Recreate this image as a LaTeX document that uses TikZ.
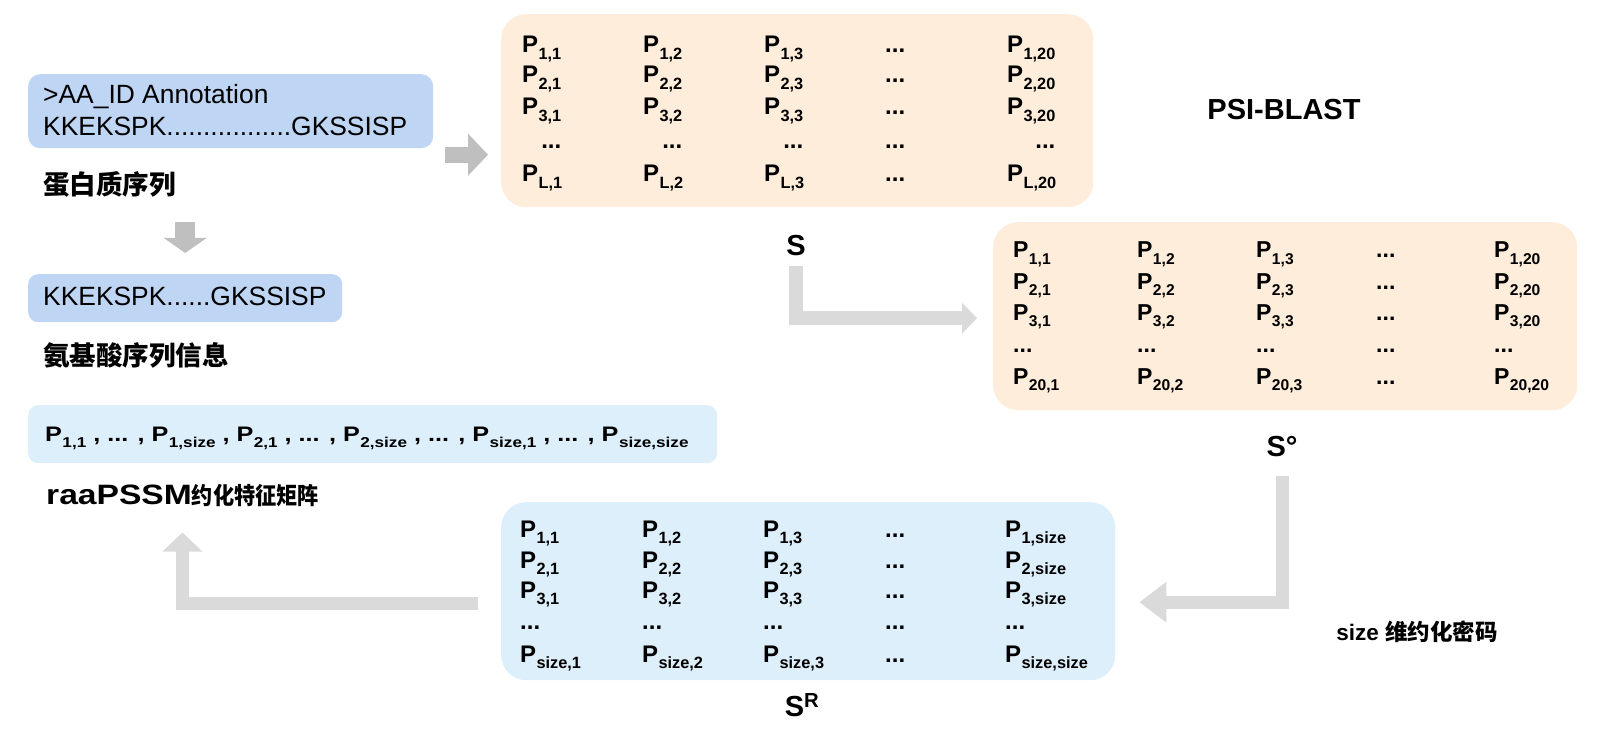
\documentclass[tikz,border=0pt]{standalone}
\usepackage{fontspec}
\setmainfont{Liberation Sans}
\newfontfamily\cjk{Noto Sans CJK SC}
\usepackage{tikz}
\usetikzlibrary{arrows.meta,positioning,calc}

\definecolor{seqblue}{RGB}{190,213,244}
\definecolor{matorange}{RGB}{253,237,218}
\definecolor{matblue}{RGB}{221,239,250}
\definecolor{arrgray}{RGB}{191,191,191}
\definecolor{arrlight}{RGB}{218,218,218}

% one matrix entry P with a subscript
\newcommand\pe[1]{P\kern0.4pt\raisebox{-0.29em}{\scalebox{0.68}{#1}}}
\newcommand\fsz[1]{\fontsize{#1}{#1}\selectfont}

\begin{document}
\begin{tikzpicture}[
  x=1pt, y=-1pt,
  panel/.style={rounded corners=#1, inner sep=0, anchor=north west},
  ent/.style={font=\bfseries\fsz{#1}, anchor=base west, inner sep=0},
  seqtxt/.style={font=\fsz{26.4}, anchor=base west, inner sep=0},
  zhlbl/.style={font=\cjk\bfseries\fsz{26.5}, anchor=west, inner sep=0},
  mlbl/.style={font=\bfseries\fsz{29}, inner sep=0},
  garr/.style={draw=arrgray, line width=#1},
  larr/.style={draw=arrlight, line width=#1, line join=miter},
]
\useasboundingbox (0,0) rectangle (1597,743);

% left column: sequences
\node[panel=12pt, fill=seqblue, minimum width=405pt, minimum height=74pt] (prot) at (28,74) {};
\node[seqtxt] (protl1) at (43,104) {>AA\_ID Annotation};
\node[seqtxt] (protl2) at (43,136) {KKEKSPK.................GKSSISP};
\node[zhlbl] (protlbl) at (43,184) {蛋白质序列};

\node[panel=10pt, fill=seqblue, minimum width=314pt, minimum height=48pt] (aaseq) at (28,274) {};
\node[seqtxt] (aal) at (43,305) {KKEKSPK......GKSSISP};
\node[zhlbl] (aalbl) at (43,355) {氨基酸序列信息};

\node[panel=10pt, fill=matblue, minimum width=689pt, minimum height=58pt] (vec) at (28,405) {};
\node[ent=21] (vecl) at (45,441) {\scalebox{1.2}[1]{\pe{1,1} , ... , \pe{1,size} , \pe{2,1} , ... , \pe{2,size} , ... , \pe{size,1} , ... , \pe{size,size}}};
\node[anchor=west, inner sep=0] (veclbl) at (46,496) {\scalebox{1.2}[1]{\bfseries\fsz{28}raaPSSM}\scalebox{0.9}[1]{\cjk\bfseries\fsz{23.5}约化特征矩阵}};

% matrix S
\node[panel=25pt, fill=matorange, minimum width=592pt, minimum height=193pt] (smat) at (501,14) {};
\foreach \r/\y in {1/53,2/83,3/115,L/182} {
  \foreach \c/\x in {1/522,2/643,3/764}
    \node[ent=24] (s-\r-\c) at (\x,\y) {\pe{\r,\c}};
  \node[ent=24] (s-\r-4) at (885,\y) {...};
  \node[ent=24] (s-\r-5) at (1007,\y) {\pe{\r,20}};
}
\foreach \c in {1,...,5}
  \node[ent=24, anchor=base east] (s-d-\c) at (s-1-\c.base east |- 0,149) {...};
\node[mlbl] (slbl) at (796,246) {S};
\node[mlbl] (psi) at (1284,110) {PSI-BLAST};

% matrix S°
\node[panel=25pt, fill=matorange, minimum width=584pt, minimum height=188pt] (somat) at (993,222) {};
\foreach \r/\y in {1/258,2/289,3/320,20/384} {
  \foreach \c/\x in {1/1013,2/1137,3/1256}
    \node[ent=23] (o-\r-\c) at (\x,\y) {\pe{\r,\c}};
  \node[ent=23] (o-\r-4) at (1376,\y) {...};
  \node[ent=23] (o-\r-5) at (1494,\y) {\pe{\r,20}};
}
\foreach \x in {1013,1137,1256,1376,1494}
  \node[ent=23] at (\x,352) {...};
\node[mlbl] (solbl) at (1282,447) {S°};

% matrix S^R
\node[panel=25pt, fill=matblue, minimum width=614pt, minimum height=178pt] (srmat) at (501,502) {};
\foreach \r/\y in {1/537,2/568,3/598,size/662} {
  \foreach \c/\x in {1/520,2/642,3/763}
    \node[ent=24] (r-\r-\c) at (\x,\y) {\pe{\r,\c}};
  \node[ent=24] (r-\r-4) at (885,\y) {...};
  \node[ent=24] (r-\r-5) at (1005,\y) {\pe{\r,size}};
}
\foreach \x in {520,642,763,885,1005}
  \node[ent=24] at (\x,629) {...};
\node[mlbl] (srlbl) at (802,705) {S\textsuperscript{R}};
\node[font=\bfseries\fsz{22.5}, inner sep=0] (sizelbl) at (1417,632) {size {\cjk 维约化密码}};

% arrows
\draw[garr=20pt, -{Triangle[length=15pt,width=42pt]}] ([yshift=52pt]aaseq.north) -- ([yshift=21pt]aaseq.north);
\draw[garr=16pt, -{Triangle[length=20pt,width=41pt]}] ([xshift=-56pt,yshift=-44pt]smat.west) -- ([xshift=-13pt,yshift=-44pt]smat.west);
\draw[larr=14pt, -{Triangle[length=15pt,width=30pt]}] ([yshift=-10pt]slbl.south) |- ([xshift=-16pt,yshift=-2pt]somat.west);
\draw[larr=13pt, -{Triangle[length=27pt,width=39pt]}] ([yshift=-19pt]solbl.south) |- ([xshift=24pt,yshift=-11pt]srmat.east);
\draw[larr=13pt, -{Triangle[length=19pt,width=39pt]}] ([xshift=-23pt,yshift=-12pt]srmat.west) -| ([yshift=-25pt]veclbl.south);
\end{tikzpicture}
\end{document}
